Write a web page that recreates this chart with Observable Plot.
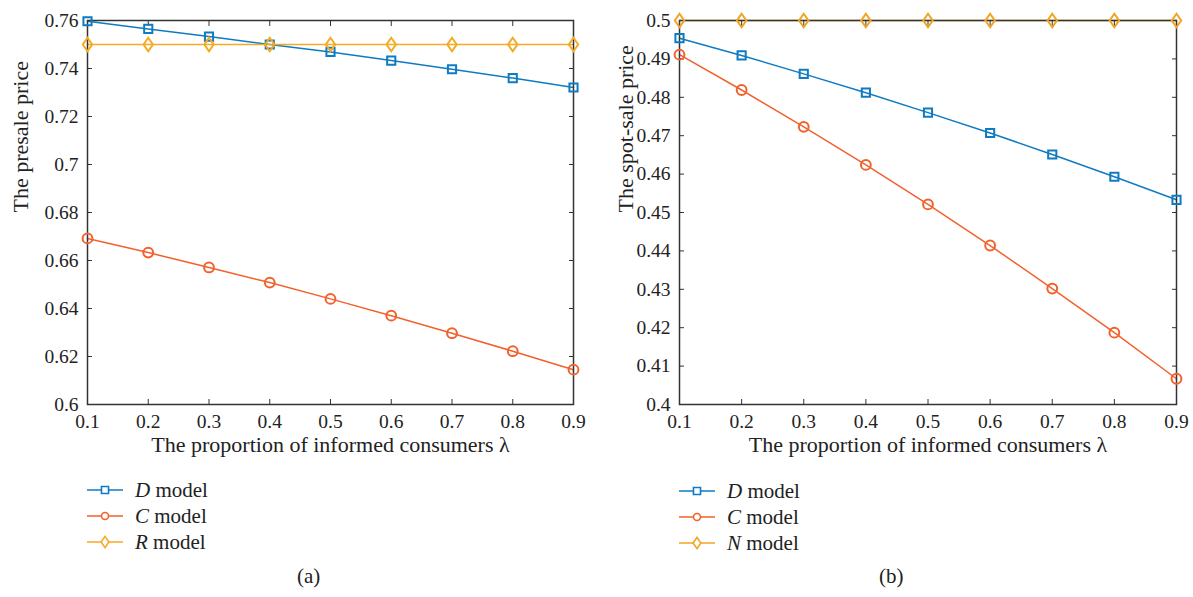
<!DOCTYPE html>
<html><head><meta charset="utf-8">
<script src="https://cdn.jsdelivr.net/npm/d3@7"></script>
<script src="https://cdn.jsdelivr.net/npm/@observablehq/plot@0.6"></script>
<style>
body{margin:0;background:#fff;font-family:"Liberation Serif",serif;color:#222}
#wrap{position:relative;width:1193px;height:597px}
.panel{position:absolute;top:0}
.legend{position:absolute;font-size:21px;line-height:26px}
.legend div{display:flex;align-items:center;height:26px}
.legend svg{margin-right:12px}
.cap{position:absolute;font-size:21px;top:564px}
</style></head><body>
<div id="wrap"></div>
<script>
const lambda = [0.1,0.2,0.3,0.4,0.5,0.6,0.7,0.8,0.9];
// (a) presale price
const presaleD = [0.7597,0.7565,0.7533,0.7500,0.7469,0.7433,0.7397,0.7360,0.7321];
const presaleC = [0.6692,0.6633,0.6571,0.6508,0.6440,0.6370,0.6297,0.6222,0.6145];
const presaleR = [0.75,0.75,0.75,0.75,0.75,0.75,0.75,0.75,0.75];
// (b) spot-sale price
const spotD = [0.4954,0.4909,0.4861,0.4812,0.4760,0.4707,0.4651,0.4593,0.4533];
const spotC = [0.4911,0.4819,0.4723,0.4624,0.4521,0.4414,0.4302,0.4187,0.4067];
const spotN = [0.5,0.5,0.5,0.5,0.5,0.5,0.5,0.5,0.5];
const xTicks = [0.1,0.2,0.3,0.4,0.5,0.6,0.7,0.8,0.9];
const yTicksA = [0.6,0.62,0.64,0.66,0.68,0.7,0.72,0.74,0.76];
const yTicksB = [0.4,0.41,0.42,0.43,0.44,0.45,0.46,0.47,0.48,0.49,0.5];
const seriesNamesA = ["D","C","R"];
const seriesNamesB = ["D","C","N"];
const xTitle = "The proportion of informed consumers \u03bb";
const colors = {D:"#0f7bc2", C:"#f2612c", R:"#f5aa24", N:"#f0a41f"};

const diamond = {draw(ctx, size){const r=Math.sqrt(size/Math.PI);ctx.moveTo(0,-r*1.3);ctx.lineTo(r*0.9,0);ctx.lineTo(0,r*1.3);ctx.lineTo(-r*0.9,0);ctx.closePath();}};
const symbolOf = {D:"square", C:"circle", R:diamond, N:diamond};
const rOf = {D:4.6, C:4.9, R:5.2, N:5.2};

function rows(names, arrays){
  const out=[];
  names.forEach((n,i)=>arrays[i].forEach((v,j)=>out.push({s:n,x:lambda[j],y:v})));
  return out;
}
const fmt = d3.format("~g");

function panel({names, arrays, yDomain, yTicks, yLabel, width, mLeft, mRight, left, yLabelDx}){
  const data = rows(names, arrays);
  const marks = [];
  names.forEach(n=>{
    const d = data.filter(r=>r.s===n);
    marks.push(Plot.line(d,{x:"x",y:"y",stroke:colors[n],strokeWidth:1.5}));
  });
  marks.push(
    Plot.axisX({anchor:"bottom",ticks:xTicks,tickFormat:fmt,tickSize:-5,tickPadding:15,fontSize:19.5,label:null,stroke:"#333"}),
    Plot.axisX({anchor:"top",ticks:xTicks,tickFormat:()=>"",tickSize:-5,label:null,stroke:"#333"}),
    Plot.axisY({anchor:"left",ticks:yTicks,tickFormat:fmt,tickSize:-5,tickPadding:14,fontSize:19.5,label:null,stroke:"#333"}),
    Plot.axisY({anchor:"right",ticks:yTicks,tickFormat:()=>"",tickSize:-5,label:null,stroke:"#333"}),
    Plot.frame({stroke:"#333",strokeWidth:1.5}),
    Plot.text([xTitle],{frameAnchor:"bottom",lineAnchor:"middle",dy:40,fontSize:22,fill:"#222",text:d=>d}),
    Plot.text([yLabel],{frameAnchor:"left",dx:yLabelDx,rotate:-90,fontSize:22,fill:"#222",text:d=>d})
  );
  names.forEach(n=>{
    const d = data.filter(r=>r.s===n);
    marks.push(Plot.dot(d,{x:"x",y:"y",stroke:colors[n],strokeWidth:2,fill:"none",symbol:symbolOf[n],r:rOf[n]}));
  });
  const p = Plot.plot({
    width, height:460, marginLeft:mLeft, marginRight:mRight, marginTop:20, marginBottom:56,
    style:{fontFamily:"Liberation Serif, serif", fontSize:"19px", color:"#222", background:"transparent", overflow:"visible"},
    x:{domain:[0.1,0.9]}, y:{domain:yDomain},
    marks
  });
  p.classList.add("panel");
  p.style.left = left+"px";
  return p;
}

function legend(names, left, top){
  const div = document.createElement("div");
  div.className="legend"; div.style.left=left+"px"; div.style.top=top+"px";
  names.forEach(n=>{
    const row=document.createElement("div");
    const sw = d3.create("svg").attr("width",36).attr("height",20);
    sw.append("line").attr("x1",0).attr("x2",36).attr("y1",10).attr("y2",10).attr("stroke",colors[n]).attr("stroke-width",1.5);
    const sym = n==="D"? d3.symbol(d3.symbolSquare, 4.6*4.6*Math.PI*0.75) : n==="C"? d3.symbol(d3.symbolCircle, 3.5*3.5*Math.PI) : d3.symbol(diamond, 4.3*4.3*Math.PI);
    sw.append("path").attr("d",sym()).attr("transform","translate(18,10)").attr("fill","#fff").attr("stroke",colors[n]).attr("stroke-width",1.6);
    row.appendChild(sw.node());
    const t=document.createElement("span");
    t.innerHTML=`<i>${n}</i> model`;
    row.appendChild(t);
    div.appendChild(row);
  });
  return div;
}

const wrap=document.getElementById("wrap");
wrap.appendChild(panel({names:seriesNamesA, arrays:[presaleD,presaleC,presaleR], yDomain:[0.6,0.76], yTicks:yTicksA, yLabel:"The presale price", width:596, mLeft:87, mRight:23, left:0, yLabelDx:-67}));
wrap.appendChild(panel({names:seriesNamesB, arrays:[spotD,spotC,spotN], yDomain:[0.4,0.5], yTicks:yTicksB, yLabel:"The spot-sale price", width:597, mLeft:83, mRight:17, left:596, yLabelDx:-54}));
wrap.appendChild(legend(seriesNamesA, 87, 477));
wrap.appendChild(legend(seriesNamesB, 679, 478));
const ca=document.createElement("div");ca.className="cap";ca.style.left="297px";ca.textContent="(a)";wrap.appendChild(ca);
const cb=document.createElement("div");cb.className="cap";cb.style.left="879px";cb.textContent="(b)";wrap.appendChild(cb);
</script></body></html>
